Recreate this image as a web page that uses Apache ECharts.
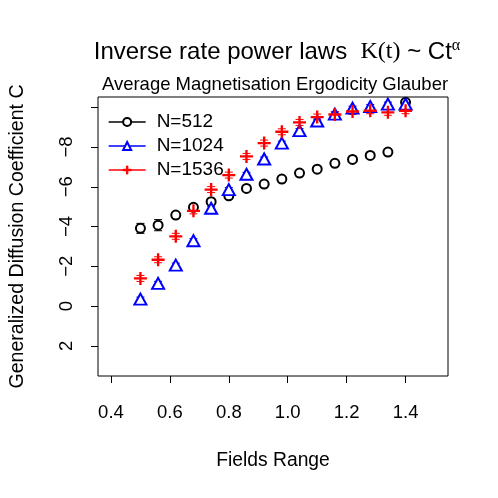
<!DOCTYPE html>
<html>
<head>
<meta charset="utf-8">
<script src="https://cdn.jsdelivr.net/npm/echarts@6/dist/echarts.min.js"></script>
<style>html,body{margin:0;padding:0;background:#fff}#c{width:498px;height:498px}</style>
</head>
<body>
<div id="c"></div>
<script>
const fields = [0.50,0.56,0.62,0.68,0.74,0.80,0.86,0.92,0.98,1.04,1.10,1.16,1.22,1.28,1.34,1.40];
const c512  = [-3.91,-4.07,-4.58,-4.97,-5.25,-5.55,-5.92,-6.14,-6.39,-6.69,-6.89,-7.18,-7.38,-7.58,-7.75,-10.25];
const c1024 = [-0.35,-1.14,-2.06,-3.29,-4.92,-5.86,-6.63,-7.40,-8.20,-8.83,-9.31,-9.66,-9.96,-10.04,-10.16,-10.16];
const c1536 = [-1.39,-2.33,-3.51,-4.79,-5.86,-6.59,-7.53,-8.20,-8.77,-9.24,-9.51,-9.64,-9.79,-9.83,-9.75,-9.83];
const e512  = [0.25,0.28,0.08,0.08,0.08,0.07,0.07,0.07,0.07,0.07,0.07,0.07,0.07,0.07,0.07,0.07];
const e1024 = [0.10,0.10,0.10,0.10,0.10,0.10,0.10,0.10,0.10,0.10,0.10,0.10,0.10,0.10,0.10,0.10];
const e1536 = [0.15,0.15,0.15,0.15,0.15,0.15,0.15,0.15,0.15,0.15,0.15,0.15,0.15,0.15,0.15,0.15];
const names = ['N=512','N=1024','N=1536'];
const colors = ['#000000','#0000ff','#ff0000'];
const xTicks = [0.4,0.6,0.8,1.0,1.2,1.4];
const yTicks = [-10,-8,-6,-4,-2,0,2];
const yLabels = [-8,-6,-4,-2,0,2];

const FONT = '"Liberation Sans", Arial, sans-serif';
const SERIF = '"Liberation Serif", "DejaVu Serif", serif';
const plus = 'path://M4.1,0h1.8v4.1h4.1v1.8h-4.1v4.1h-1.8v-4.1h-4.1v-1.8h4.1z';

function pts(vals){ return fields.map((x,i)=>[x, vals[i]]); }
function errPts(vals, errs){ return fields.map((x,i)=>[x, vals[i], errs[i]]); }
function errSeries(name, vals, errs, color){
  return {
    type:'custom', name:name, data: errPts(vals, errs), z: 1, silent: true,
    renderItem: function(params, api){
      const x = api.value(0), y = api.value(1), e = api.value(2);
      const p1 = api.coord([x, y - e]), p2 = api.coord([x, y + e]);
      const w = 4;
      const st = {stroke: color, lineWidth: 1};
      return {type:'group', children:[
        {type:'line', shape:{x1:p1[0], y1:p1[1], x2:p2[0], y2:p2[1]}, style:st},
        {type:'line', shape:{x1:p1[0]-w, y1:p1[1], x2:p1[0]+w, y2:p1[1]}, style:st},
        {type:'line', shape:{x1:p2[0]-w, y1:p2[1], x2:p2[0]+w, y2:p2[1]}, style:st}
      ]};
    }
  };
}

const chart = echarts.init(document.getElementById('c'), null, {renderer:'canvas'});
chart.setOption({
  animation: false,
  backgroundColor: '#ffffff',
  textStyle: {fontFamily: FONT},
  title: [
    {
      left: 272, top: 47, textAlign: 'center', textVerticalAlign: 'middle',
      text: '{a|Inverse rate power laws  }{b|K(t)}{a| ~ Ct}{c|α}',
      textStyle: {
        fontWeight: 'normal',
        rich: {
          a: {fontFamily: FONT, fontSize: 24, fontWeight: 'normal', color: '#000'},
          b: {fontFamily: SERIF, fontSize: 24, fontWeight: 'normal', color: '#000'},
          c: {fontFamily: SERIF, fontSize: 16, fontWeight: 'normal', color: '#000', padding: [0,0,13,0]}
        }
      }
    },
    {
      left: 270, top: 80, textAlign: 'center', textVerticalAlign: 'middle',
      text: 'Average Magnetisation Ergodicity Glauber',
      textStyle: {fontFamily: FONT, fontSize: 18.5, fontWeight: 'normal', color: '#000'}
    }
  ],
  grid: {left: 97, right: 50, top: 97, bottom: 122, show: true, borderColor: '#000', borderWidth: 1, backgroundColor: 'transparent'},
  legend: {
    data: names, orient: 'vertical', left: 103, top: 107, itemWidth: 37, itemHeight: 10, itemGap: 4,
    textStyle: {fontFamily: FONT, fontSize: 19, color: '#000', lineHeight: 20, padding: [0,0,0,6]},
    lineStyle: {opacity: 1, width: 1.3},
    itemStyle: {borderWidth: 1},
    selectedMode: false
  },
  xAxis: {
    type: 'value', min: 0.356, max: 1.544,
    name: 'Fields Range', nameLocation: 'middle', nameGap: 75,
    nameTextStyle: {fontFamily: FONT, fontSize: 19.3, color: '#000'},
    axisLine: {show: false, onZero: false},
    axisTick: {show: true, inside: false, length: 7, lineStyle: {color: '#000'}, customValues: xTicks},
    axisLabel: {show: true, margin: 27, fontFamily: FONT, fontSize: 18.5, color: '#000', customValues: xTicks,
      formatter: v => v.toFixed(1)},
    splitLine: {show: false}
  },
  yAxis: {
    type: 'value', min: -10.52, max: 3.52, inverse: true,
    name: 'Generalized Diffusion Coefficient C', nameLocation: 'middle', nameGap: 70,
    nameTextStyle: {fontFamily: FONT, fontSize: 19.6, color: '#000'},
    axisLine: {show: false, onZero: false},
    axisTick: {show: true, inside: false, length: 7, lineStyle: {color: '#000'}, customValues: yTicks},
    axisLabel: {show: true, rotate: 90, margin: 22, fontFamily: FONT, fontSize: 18.5, color: '#000', customValues: yLabels,
      formatter: v => String(v).replace('-', '\u2212')},
    splitLine: {show: false}
  },
  series: [
    errSeries('e512', c512, e512, colors[0]),
    errSeries('e1024', c1024, e1024, colors[1]),
    errSeries('e1536', c1536, e1536, colors[2]),
    {type:'line', name: names[0], data: pts(c512), symbol: 'emptyCircle', symbolSize: 9, showSymbol: true, z: 3,
      lineStyle: {opacity: 0, color: colors[0]}, itemStyle: {color: colors[0], borderColor: colors[0], borderWidth: 1}},
    {type:'line', name: names[1], data: pts(c1024), symbol: 'emptyTriangle', symbolSize: [12,11], showSymbol: true, z: 3,
      lineStyle: {opacity: 0, color: colors[1]}, itemStyle: {color: colors[1], borderColor: colors[1], borderWidth: 1}},
    {type:'line', name: names[2], data: pts(c1536), symbol: plus, symbolSize: 13, showSymbol: true, z: 4,
      lineStyle: {opacity: 0, color: colors[2]}, itemStyle: {color: colors[2], borderColor: colors[2], borderWidth: 0}}
  ]
});
</script>
</body>
</html>
